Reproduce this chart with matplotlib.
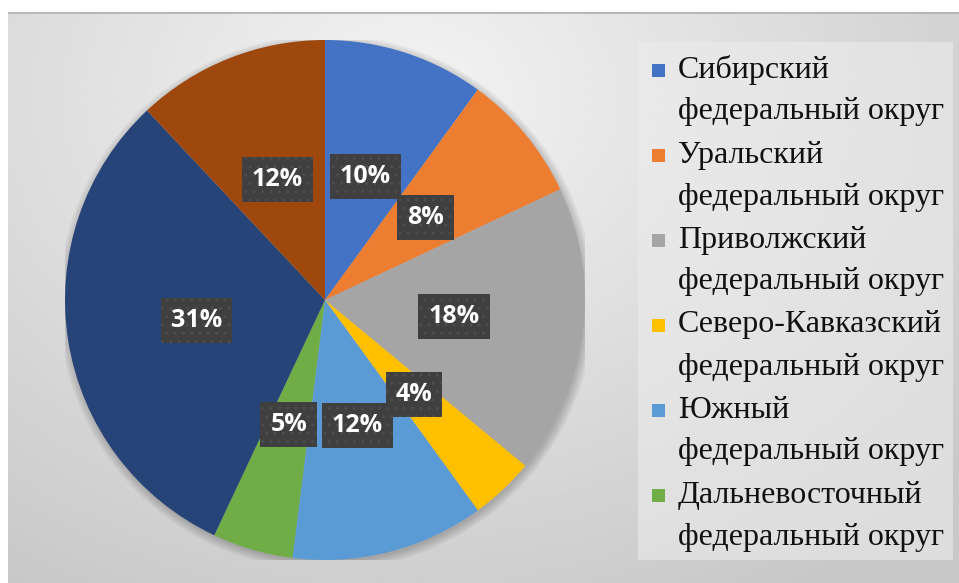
import numpy as np
import matplotlib
matplotlib.use("Agg")
import matplotlib.pyplot as plt
from matplotlib.patches import Rectangle, Circle

# shares of each district, %, clockwise from 12 o'clock
shares = [10, 8, 18, 4, 12, 5, 31, 12]
colors = ['#4472C4', '#ED7D31', '#A5A5A5', '#FFC000',
          '#5B9BD5', '#70AD47', '#264478', '#9E480E']
# only the first six names are visible in the legend
names = ['Сибирский', 'Уральский', 'Приволжский',
         'Северо-Кавказский', 'Южный', 'Дальневосточный']
suffix = 'федеральный округ'

W, H = 959, 583
fig = plt.figure(figsize=(W / 100, H / 100), dpi=100)
fig.patch.set_facecolor('white')

# grey gradient chart background
bg = fig.add_axes([8 / W, 0, 1 - 8 / W, (H - 12) / H])
yy, xx = np.mgrid[0:1:200j, 0:1:300j]
dist = np.sqrt(((xx - 0.42) * 1.3) ** 2 + ((yy - 0.15) * 1.0) ** 2)
shade = 0.955 - 0.17 * np.clip(dist, 0, 1)
bg.imshow(shade, cmap='gray', vmin=0, vmax=1, aspect='auto',
          extent=[0, 1, 1, 0])
bg.axhline(0.0, color='#b5b5b5', lw=2)
bg.set_xlim(0, 1)
bg.set_ylim(1, 0)
bg.axis('off')

# legend area (slightly lighter)
bg.add_patch(Rectangle(((638 - 8) / (W - 8), (42 - 12) / (H - 12)),
                       (953 - 638) / (W - 8), (560 - 42) / (H - 12),
                       facecolor='#ececec', edgecolor='none', alpha=0.6))

# pie
ax = fig.add_axes([65 / W, 23 / H, 520 / W, 520 / H])
# soft shadow under the pie
for k in range(6):
    ax.add_patch(Circle((0.005, -0.01), 1 + 0.006 * k, facecolor='black',
                        edgecolor='none', alpha=0.035, zorder=0))
wedges, texts, autotexts = ax.pie(
    shares, colors=colors, startangle=90, counterclock=False,
    autopct=lambda p: '{:.0f}%'.format(p), pctdistance=0.5, radius=1,
    wedgeprops=dict(linewidth=0))
for t in autotexts:
    t.set_color('white')
    t.set_fontsize(18)
    t.set_fontweight('bold')
    t.set_family('Open Sans')
    t.set_bbox(dict(boxstyle='square,pad=0.4', facecolor='#3f3f3f',
                    edgecolor='#4d4d4d', linewidth=0, hatch='..'))
ax.set_xlim(-1.0, 1.0)
ax.set_ylim(-1.0, 1.0)
ax.set_aspect('equal')
ax.axis('off')

# legend drawn by hand so the marker sits on the first line
for i, name in enumerate(names):
    ytop = 70 + 85 * i
    fig.add_artist(Rectangle((652 / W, 1 - (ytop + 6.5) / H), 13 / W, 13 / H,
                             facecolor=colors[i], edgecolor='none',
                             transform=fig.transFigure))
    fig.text(678 / W, 1 - ytop / H, name, ha='left', va='center',
             family='Liberation Serif', fontsize=23, color='#111111')
    fig.text(678 / W, 1 - (ytop + 42) / H, suffix, ha='left', va='center',
             family='Liberation Serif', fontsize=23, color='#111111')

fig.savefig('out.png', dpi=100)
